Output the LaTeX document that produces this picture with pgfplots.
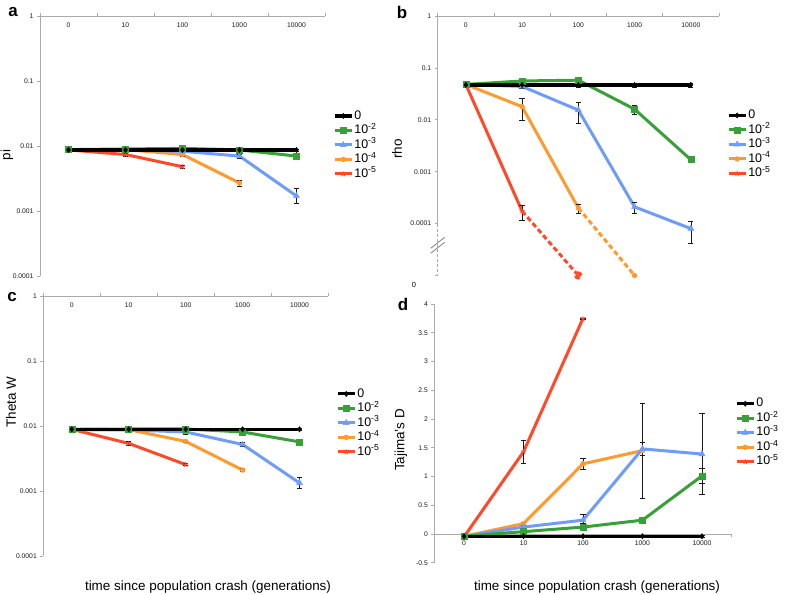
\documentclass[border=0pt]{standalone}
\usepackage{fontspec}
\setmainfont{Liberation Sans}
\usepackage{pgfplots}
\pgfplotsset{compat=1.18}
\definecolor{ink}{HTML}{1A1A1A}
\definecolor{axisgray}{HTML}{ABABAB}
\definecolor{cgreen}{HTML}{37A037}
\definecolor{cblue}{HTML}{6E9CF8}
\definecolor{corange}{HTML}{FF9A30}
\definecolor{cred}{HTML}{FF4A2A}
\newcommand\ticksize{\fontsize{6.8}{7}\selectfont}
\newcommand\legsize{\fontsize{12.5}{14}\selectfont}
\newcommand\labsize{\fontsize{13.5}{15}\selectfont}

\pgfplotsset{
  myerr/.style={error bars/y dir=both, error bars/y explicit,
    error bars/error bar style={ink, line width=0.6bp, solid},
    error bars/error mark options={ink, rotate=90, mark size=2.6bp, line width=0.6bp, solid}},
  serzero/.style={color=black, line width=3.2bp, mark=diamond*, mark size=2.6bp, mark options={solid, line width=0.5bp}, myerr},
  sertwo/.style={color=cgreen, line width=3bp, mark=square*, mark size=3bp, mark options={solid, line width=0.5bp}, myerr},
  serthree/.style={color=cblue, line width=3bp, mark=triangle*, mark size=3.4bp, mark options={solid, line width=0.5bp}, myerr},
  serfour/.style={color=corange, line width=3bp, mark=*, mark size=2.4bp, mark options={solid, line width=0.5bp}, myerr},
  serfive/.style={color=cred, line width=3bp, mark=star, mark size=2.6bp, mark options={solid, line width=0.9bp}, myerr},
  mypanel/.style={scale only axis, anchor=south west, clip=false,
    xmin=-0.5, xmax=4.5, xtick={0,1,2,3,4}, xticklabels={0,10,100,1000,10000},
    minor xtick={-0.5,0.5,1.5,2.5,3.5,4.5},
    axis line style={draw=axisgray, line width=0.7bp},
    tick style={draw=axisgray, line width=0.7bp},
    major x tick style={draw=none},
    major tick length=3bp, minor tick length=3bp, tick align=outside,
    tick label style={font=\ticksize, text=ink},
    legend style={draw=none, fill=none, anchor=west, font=\legsize, inner sep=0pt,
      nodes={inner sep=1bp, text height=9.5bp, text depth=3bp}},
    legend cell align=left,
    legend image code/.code={\draw[mark repeat=2, mark phase=2, ##1] plot coordinates {(0bp,0bp) (8.5bp,0bp) (17bp,0bp)};},
    reverse legend,
  },
  mylog/.style={axis x line*=top, axis y line*=left,
    minor y tick style={draw=none},
    xticklabel style={anchor=north, yshift=-6bp}},
}

\begin{document}
\begin{tikzpicture}
\useasboundingbox (0,0) rectangle (785bp,-595bp);

% a: pi
\begin{axis}[mypanel, mylog, ymode=log, at={(40bp,-276bp)}, width=285bp, height=260bp,
  ymin=1e-4, ymax=1, ytick={1e-4,1e-3,1e-2,1e-1,1}, yticklabels={0.0001,0.001,0.01,0.1,1},
  legend style={at={(1.028,0.504)}}]
\addplot[serfive] coordinates {(0,0.0087) +- (0,0.0003) (1,0.0074) +- (0,0.0004) (2,0.0048) +- (0,0.0003)};
\addlegendentry{10\textsuperscript{-5}}
\addplot[serfour] coordinates {(0,0.0087) +- (0,0.0003) (1,0.0088) +- (0,0.0003) (2,0.0074) +- (0,0.0004) (3,0.0027) +- (0,0.0003)};
\addlegendentry{10\textsuperscript{-4}}
\addplot[serthree] coordinates {(0,0.0087) +- (0,0.0003) (1,0.0087) +- (0,0.0003) (2,0.0083) +- (0,0.0003) (3,0.0070) +- (0,0.0005) (4,0.0017) += (0,0.0005) -= (0,0.0004)};
\addlegendentry{10\textsuperscript{-3}}
\addplot[sertwo] coordinates {(0,0.0088) +- (0,0.0003) (1,0.0090) +- (0,0.0003) (2,0.0092) +- (0,0.0003) (3,0.0087) +- (0,0.0003) (4,0.0070) +- (0,0.0004)};
\addlegendentry{10\textsuperscript{-2}}
\addplot[serzero] coordinates {(0,0.0087) +- (0,0.0003) (1,0.0087) +- (0,0.0003) (2,0.0087) +- (0,0.0003) (3,0.0087) +- (0,0.0003) (4,0.0087) +- (0,0.0003)};
\addlegendentry{0}
\end{axis}

% b: rho
\begin{axis}[mypanel, mylog, ymode=log, at={(437.7bp,-275.5bp)}, width=281.3bp, height=259.5bp,
  ymin=1e-5, ymax=1, ytick={1e-5,1e-4,1e-3,1e-2,1e-1,1}, yticklabels={,0.0001,0.001,0.01,0.1,1},
  y axis line style={draw=none}, legend style={at={(1.028,0.505)}}]
\addplot[serfive] coordinates {(0,0.048) +- (0,0.004) (1,0.000174) += (0,0.00005) -= (0,0.00006)};
\addlegendentry{10\textsuperscript{-5}}
\addplot[serfour] coordinates {(0,0.048) +- (0,0.004) (1,0.0179) += (0,0.008) -= (0,0.0083) (2,0.0002) +- (0,0.00004)};
\addlegendentry{10\textsuperscript{-4}}
\addplot[serthree] coordinates {(0,0.048) +- (0,0.004) (1,0.044) +- (0,0.003) (2,0.0154) += (0,0.0066) -= (0,0.0068) (3,0.00021) +- (0,0.00005) (4,0.00008) += (0,0.000033) -= (0,0.000038)};
\addlegendentry{10\textsuperscript{-3}}
\addplot[sertwo] coordinates {(0,0.048) +- (0,0.003) (1,0.056) +- (0,0.004) (2,0.058) +- (0,0.004) (3,0.016) +- (0,0.003) (4,0.0017) +- (0,0.0002)};
\addlegendentry{10\textsuperscript{-2}}
\addplot[serzero] coordinates {(0,0.047) +- (0,0.004) (1,0.047) +- (0,0.005) (2,0.047) +- (0,0.005) (3,0.047) +- (0,0.004) (4,0.047) +- (0,0.004)};
\addlegendentry{0}
\addplot[serfive, forget plot, dash pattern=on 5bp off 3bp, mark=*, mark indices={2}, mark options={fill=cred!80!corange}] coordinates {(1,0.000174) (2,1e-5) +- (0,0)};
\addplot[serfour, forget plot, dash pattern=on 5bp off 3bp, mark=*, mark indices={2}] coordinates {(2,0.0002) (3,1e-5) +- (0,0)};
\draw[axisgray, line width=0.7bp] (axis cs:-0.5,1) -- (axis cs:-0.5,1e-4);
\draw[axisgray, line width=0.7bp, dash pattern=on 3bp off 2bp] (axis cs:-0.5,1e-4) -- (axis cs:-0.5,1e-5);
\draw[gray, line width=0.8bp] (axis cs:-0.5,3.5e-5) ++(-7bp,-6bp) -- ++(14bp,11bp);
\draw[gray, line width=0.8bp] (axis cs:-0.5,3.5e-5) ++(-7bp,-1bp) -- ++(14bp,11bp);
\end{axis}

% c: Theta W
\begin{axis}[mypanel, mylog, ymode=log, at={(43.3bp,-556bp)}, width=284.7bp, height=260bp,
  ymin=1e-4, ymax=1, ytick={1e-4,1e-3,1e-2,1e-1,1}, yticklabels={0.0001,0.001,0.01,0.1,1},
  legend style={at={(1.028,0.512)}}]
\addplot[serfive] coordinates {(0,0.0089) +- (0,0.0003) (1,0.0054) +- (0,0.0004) (2,0.00255) +- (0,0.0001)};
\addlegendentry{10\textsuperscript{-5}}
\addplot[serfour] coordinates {(0,0.0089) +- (0,0.0003) (1,0.0088) +- (0,0.0003) (2,0.0058) +- (0,0.0002) (3,0.0021) +- (0,0.0001)};
\addlegendentry{10\textsuperscript{-4}}
\addplot[serthree] coordinates {(0,0.0087) +- (0,0.0003) (1,0.0087) +- (0,0.0003) (2,0.0081) +- (0,0.0006) (3,0.0052) +- (0,0.0004) (4,0.00133) += (0,0.00027) -= (0,0.00024)};
\addlegendentry{10\textsuperscript{-3}}
\addplot[sertwo] coordinates {(0,0.0089) +- (0,0.0003) (1,0.0090) +- (0,0.0003) (2,0.0090) +- (0,0.0003) (3,0.0081) +- (0,0.0003) (4,0.0057) +- (0,0.0003)};
\addlegendentry{10\textsuperscript{-2}}
\addplot[serzero] coordinates {(0,0.0089) +- (0,0.0004) (1,0.0089) +- (0,0.0004) (2,0.0089) +- (0,0.0004) (3,0.0089) +- (0,0.0004) (4,0.0089) +- (0,0.0004)};
\addlegendentry{0}
\end{axis}

% d: Tajima's D
\begin{axis}[mypanel, at={(434.3bp,-562.7bp)}, width=297.4bp, height=258.7bp,
  ymin=-0.5, ymax=4, axis x line*=middle, axis y line*=left,
  ytick={-0.5,0,0.5,1,1.5,2,2.5,3,3.5,4}, yticklabels={-0.5,0,0.5,1,1.5,2,2.5,3,3.5,4},
  legend style={at={(1.011,0.5025)}}]
\addplot[serfive] coordinates {(0,-0.05) +- (0,0.01) (1,1.43) +- (0,0.2) (2,3.75) +- (0,0.01)};
\addlegendentry{10\textsuperscript{-5}}
\addplot[serfour] coordinates {(0,-0.04) +- (0,0.01) (1,0.18) +- (0,0.03) (2,1.22) +- (0,0.1) (3,1.45) +- (0,0.83)};
\addlegendentry{10\textsuperscript{-4}}
\addplot[serthree] coordinates {(0,-0.04) +- (0,0.01) (1,0.12) +- (0,0.08) (2,0.24) +- (0,0.1) (3,1.48) +- (0,0.11) (4,1.39) += (0,0.71) -= (0,0.70)};
\addlegendentry{10\textsuperscript{-3}}
\addplot[sertwo] coordinates {(0,-0.04) +- (0,0.01) (1,0.04) +- (0,0.05) (2,0.12) +- (0,0.06) (3,0.24) +- (0,0.05) (4,1.01) +- (0,0.13)};
\addlegendentry{10\textsuperscript{-2}}
\addplot[serzero] coordinates {(0,-0.04) +- (0,0.01) (1,-0.04) +- (0,0.01) (2,-0.04) +- (0,0.01) (3,-0.04) +- (0,0.01) (4,-0.04) +- (0,0.01)};
\addlegendentry{0}
\end{axis}

% panel letters, axis titles
\node[font=\fontsize{17}{18}\selectfont\bfseries] at (13bp,-12bp) {a};
\node[font=\fontsize{17}{18}\selectfont\bfseries] at (402bp,-12bp) {b};
\node[font=\fontsize{17}{18}\selectfont\bfseries] at (12bp,-297bp) {c};
\node[font=\fontsize{17}{18}\selectfont\bfseries] at (403bp,-304bp) {d};
\node[font=\labsize, rotate=90] at (7bp,-155bp) {pi};
\node[font=\labsize, rotate=90] at (397bp,-149bp) {rho};
\node[font=\labsize, rotate=90] at (11bp,-402bp) {Theta W};
\node[font=\labsize, rotate=90] at (401bp,-440bp) {Tajima's D};
\node[font=\labsize] at (208bp,-587bp) {time since population crash (generations)};
\node[font=\labsize] at (597bp,-587bp) {time since population crash (generations)};
\node[font=\fontsize{7.5}{8}\selectfont] at (414bp,-285bp) {0};
\end{tikzpicture}
\end{document}
